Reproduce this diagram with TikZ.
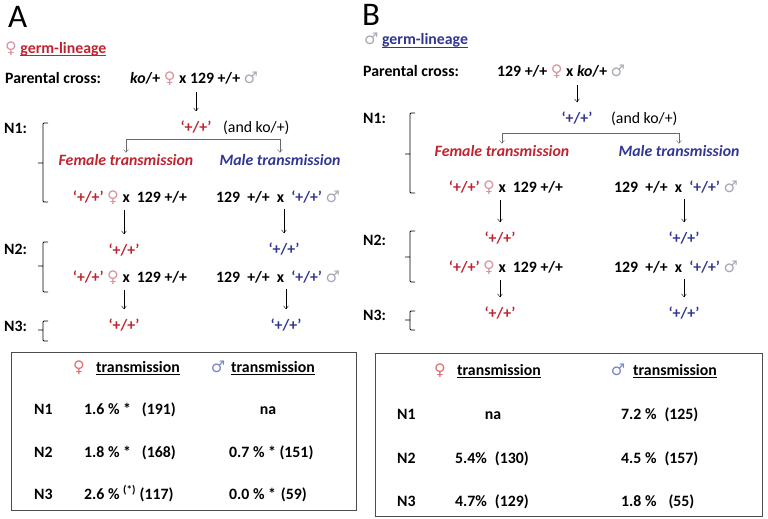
\documentclass[tikz,border=0pt]{standalone}
\usepackage{fontspec}
\setmainfont{Carlito}
\newfontfamily\symf{DejaVu Sans}
\usetikzlibrary{arrows.meta,positioning,calc}
\definecolor{femred}{RGB}{192,35,48}
\definecolor{malblue}{RGB}{48,54,146}
\definecolor{fempink}{RGB}{214,150,160}
\definecolor{symgray}{RGB}{168,170,182}
\definecolor{tabpink}{RGB}{226,110,120}
\definecolor{tabblue}{RGB}{120,135,200}
\definecolor{linegray}{RGB}{105,105,105}
\newcommand{\venus}[1][fempink]{{\symf\mdseries\fontsize{16}{18}\selectfont\textcolor{#1}{♀}}}
\newcommand{\mars}[1][symgray]{{\symf\mdseries\fontsize{16}{18}\selectfont\textcolor{#1}{♂}}}
\newcommand{\wt}{‘+/+’}
\newcommand{\ulin}[1]{\leavevmode\setbox0=\hbox{#1}\rlap{\rule[-2.8pt]{\wd0}{0.8pt}}\box0}

\begin{document}
\begin{tikzpicture}[x=1pt,y=-1pt,
  every node/.style={font=\bfseries\fontsize{15.8}{18}\selectfont,inner sep=1pt,anchor=base},
  panel/.style={font=\fontsize{33}{36}\selectfont,anchor=base west,inner sep=0pt},
  lw/.style={anchor=base west},
  trans/.style={font=\bfseries\itshape\fontsize{15.8}{18}\selectfont},
  plain/.style={font=\mdseries\fontsize{15.8}{18}\selectfont,anchor=base west},
  fem/.style={text=femred},
  mal/.style={text=malblue},
  flow/.style={->,shorten <=5pt,shorten >=8pt},
  split/.style={<->,linegray},
  brace/.style={black,line width=0.75pt,rounded corners=1pt},
  tab/.style={draw=black!70,line width=0.8pt},
  >={Straight Barb[length=3pt,width=5pt]}]
\useasboundingbox (0,0) rectangle (768,519);

% ---------- A: female germ-lineage ----------
\node[panel] (labA) at (8,28) {A};
\node[lw,fem] (titA) at (4,53) {\venus\ \ulin{germ-lineage}};
\node[lw] (parA) at (4,84) {Parental cross:};
\node[lw] (crA) at (129,84) {\textit{ko}/+ \venus\ x 129 +/+ \mars};
\node[fem] (p1A) at (196,132) {\wt};
\node[plain] (koA) at (222,132) {(and ko/+)};
\coordinate (sA) at (200,139);
\node[trans,fem] (femA) at (126,165) {Female transmission};
\node[trans,mal] (malA) at (280,165) {Male transmission};
\node (c1fA) at (130,202) {\textcolor{femred}{\wt} \venus\ x\ \ 129 +/+};
\node (c1mA) at (278,202) {129\ \ +/+\ \ x\ \ \textcolor{malblue}{\wt} \mars};
\node[fem] (p2fA) at (124,255) {\wt};
\node[mal] (p2mA) at (284,254) {\wt};
\node (c2fA) at (130,282) {\textcolor{femred}{\wt} \venus\ x\ \ 129 +/+};
\node (c2mA) at (278,282) {129\ \ +/+\ \ x\ \ \textcolor{malblue}{\wt} \mars};
\node[fem] (p3fA) at (124,330) {\wt};
\node[mal] (p3mA) at (286,330) {\wt};

\draw[flow] (crA.south -| p1A) -- (p1A);
\draw[split] (femA.north) -- (femA.north |- sA) -- (malA.north |- sA) -- (malA.north);
\draw[flow] (c1fA.south -| p2fA) -- (p2fA);
\draw[flow] (c1mA.south -| p2mA) -- (p2mA);
\draw[flow] (c2fA.south -| p3fA) -- (p3fA);
\draw[flow] (c2mA.south -| p3mA) -- (p3mA);

% generation labels and braces
\foreach \n/\y in {1/133,2/254,3/331}
  \node[lw] (n\n A) at (3,\y) {N\n:};
\foreach \t/\m/\b in {123/163/202, 242/266/292, 321/330/341}
  \draw[brace] (48,\t) -- (43,\t) -- (43,\b) -- (48,\b) (43,\m) -- (38,\m);

% table A
\draw[tab] (11,352) rectangle (356,510);
\node (hfsA) at (79,372) {\venus[tabpink]};
\node[lw] (hftA) at (95,372) {\ulin{transmission}};
\node (hmsA) at (218,372) {\mars[tabblue]};
\node[lw] (hmtA) at (230,372) {\ulin{transmission}};
\foreach \n/\y in {1/414,2/457,3/499}
  \node[lw] (r\n A) at (33,\y) {N\n};
\node[lw] (v11A) at (83,414) {1.6 \% *\hspace{11pt}(191)};
\node (v12A) at (268,414) {na};
\node[lw] (v21A) at (83,457) {1.8 \% *\hspace{11pt}(168)};
\node[lw] (v22A) at (228,457) {0.7 \% * (151)};
\node[lw] (v31A) at (83,499) {2.6 \% \textsuperscript{(*)} (117)};
\node[lw] (v32A) at (228,499) {0.0 \% *\hspace{5pt}(59)};

% ---------- B: male germ-lineage ----------
\node[panel] (labB) at (362,26) {B};
\node[lw,mal] (titB) at (363,45) {\mars\ \ulin{germ-lineage}};
\node[lw] (parB) at (362,77) {Parental cross:};
\node[lw] (crB) at (496,77) {129 +/+ \venus\ x \textit{ko}/+ \mars};
\node[mal] (p1B) at (577,123) {\wt};
\node[plain] (koB) at (610,123) {(and ko/+)};
\coordinate (sB) at (590,133);
\node[trans,fem] (femB) at (502,156) {Female transmission};
\node[trans,mal] (malB) at (679,156) {Male transmission};
\node (c1fB) at (506,192) {\textcolor{femred}{\wt} \venus\ x\ \ 129 +/+};
\node (c1mB) at (676,192) {129\ \ +/+\ \ x\ \ \textcolor{malblue}{\wt} \mars};
\node[fem] (p2fB) at (500,243) {\wt};
\node[mal] (p2mB) at (684,243) {\wt};
\node (c2fB) at (506,272) {\textcolor{femred}{\wt} \venus\ x\ \ 129 +/+};
\node (c2mB) at (676,272) {129\ \ +/+\ \ x\ \ \textcolor{malblue}{\wt} \mars};
\node[fem] (p3fB) at (500,318) {\wt};
\node[mal] (p3mB) at (684,318) {\wt};

\draw[flow] (crB.south -| p1B) -- (p1B);
\draw[split] (femB.north) -- (femB.north |- sB) -- (malB.north |- sB) -- (malB.north);
\draw[flow] (c1fB.south -| p2fB) -- (p2fB);
\draw[flow] (c1mB.south -| p2mB) -- (p2mB);
\draw[flow] (c2fB.south -| p3fB) -- (p3fB);
\draw[flow] (c2mB.south -| p3mB) -- (p3mB);

\foreach \n/\y in {1/123,2/245,3/320}
  \node[lw] (n\n B) at (362,\y) {N\n:};
\foreach \t/\m/\b in {113/154/193, 231/257/282, 311/320/330}
  \draw[brace] (415,\t) -- (410,\t) -- (410,\b) -- (415,\b) (410,\m) -- (405,\m);

% table B
\draw[tab] (375,353) rectangle (762,516);
\node (hfsB) at (440,375) {\venus[tabpink]};
\node[lw] (hftB) at (456,375) {\ulin{transmission}};
\node (hmsB) at (618,375) {\mars[tabblue]};
\node[lw] (hmtB) at (632,375) {\ulin{transmission}};
\foreach \n/\y in {1/419,2/463,3/506}
  \node[lw] (r\n B) at (396,\y) {N\n};
\node (v11B) at (493,419) {na};
\node[lw] (v12B) at (620,419) {7.2 \%\hspace{8pt}(125)};
\node[lw] (v21B) at (454,463) {5.4\%\hspace{8pt}(130)};
\node[lw] (v22B) at (620,463) {4.5 \%\hspace{8pt}(157)};
\node[lw] (v31B) at (454,506) {4.7\%\hspace{8pt}(129)};
\node[lw] (v32B) at (620,506) {1.8 \%\hspace{12pt}(55)};
\end{tikzpicture}
\end{document}
